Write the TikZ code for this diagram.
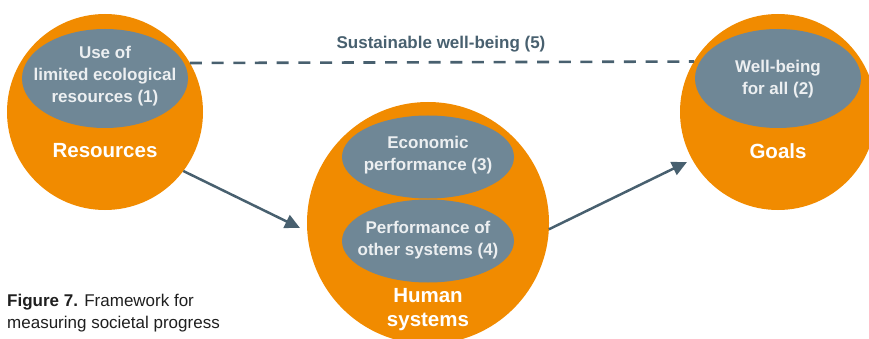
\documentclass[tikz,border=0pt]{standalone}
\usepackage{fontspec}
\setmainfont{Liberation Sans}
\usetikzlibrary{arrows.meta,shapes.geometric}
\definecolor{orng}{RGB}{241,139,0}
\definecolor{slate}{RGB}{111,135,150}
\definecolor{lbl}{RGB}{236,239,241}
\definecolor{dark}{RGB}{72,96,111}
\begin{document}
\begin{tikzpicture}[x=1pt,y=-1pt,
  ball/.style={circle,fill=orng,inner sep=0,outer sep=0},
  egg/.style={ellipse,fill=slate,inner sep=0,outer sep=0},
  intext/.style={text=lbl,font=\fontsize{17}{22}\selectfont\bfseries,align=center,inner sep=0},
  bigtext/.style={text=white,font=\fontsize{20.5}{24}\selectfont\bfseries,align=center,inner sep=0},
  arr/.style={draw=dark,line width=2.5pt,-{Triangle[length=15pt,width=14pt]}},
  dashline/.style={draw=dark,line width=2.6pt,dash pattern=on 12pt off 9.7pt},
]
\useasboundingbox (0,0) rectangle (869,339);
\clip (0,0) rectangle (869,339);
% circles
\node[ball,minimum size=196pt] (res) at (105,112) {};
\node[ball,minimum size=242pt] (hum) at (428,223) {};
\node[ball,minimum size=196pt] (goal) at (778,112) {};
% ellipses
\node[egg,minimum width=166pt,minimum height=99pt] (e1) at (105,78.5) {};
\node[egg,minimum width=166pt,minimum height=99pt] (e2) at (778,78.5) {};
\node[egg,minimum width=172pt,minimum height=83pt] (e3) at (428,157) {};
\node[egg,minimum width=172pt,minimum height=83pt] (e4) at (428,241) {};
% texts
\node[intext] (t1) at (105,76) {Use of\\limited ecological\\resources (1)};
\node[intext] (t2) at (778,79) {Well-being\\for all (2)};
\node[intext] (t3) at (428,155) {Economic\\performance (3)};
\node[intext] (t4) at (428,240) {Performance of\\other systems (4)};
\node[bigtext] (l1) at (105,151) {Resources};
\node[bigtext] (l2) at (778,151) {Goals};
\node[bigtext] (l3) at (428,310) {Human\\systems};
% connectors
\coordinate (tipA) at (300,228);
\coordinate (tipB) at (687,162);
\draw[dashline] (res.30.7) -- (goal.149.3);
\node[text=dark,font=\fontsize{17}{22}\selectfont\bfseries,inner sep=0] (sw) at (441,44.5) {Sustainable well-being (5)};
\draw[arr] (res.-37.2) -- (tipA);
\draw[arr] (hum.-3.3) -- (tipB);
% caption
\node[anchor=north west,align=left,inner sep=0,text=black!88,font=\fontsize{17}{22}\selectfont] (cap) at (7,293.5) {\textbf{Figure 7.} Framework for\\measuring societal progress};
\end{tikzpicture}
\end{document}
